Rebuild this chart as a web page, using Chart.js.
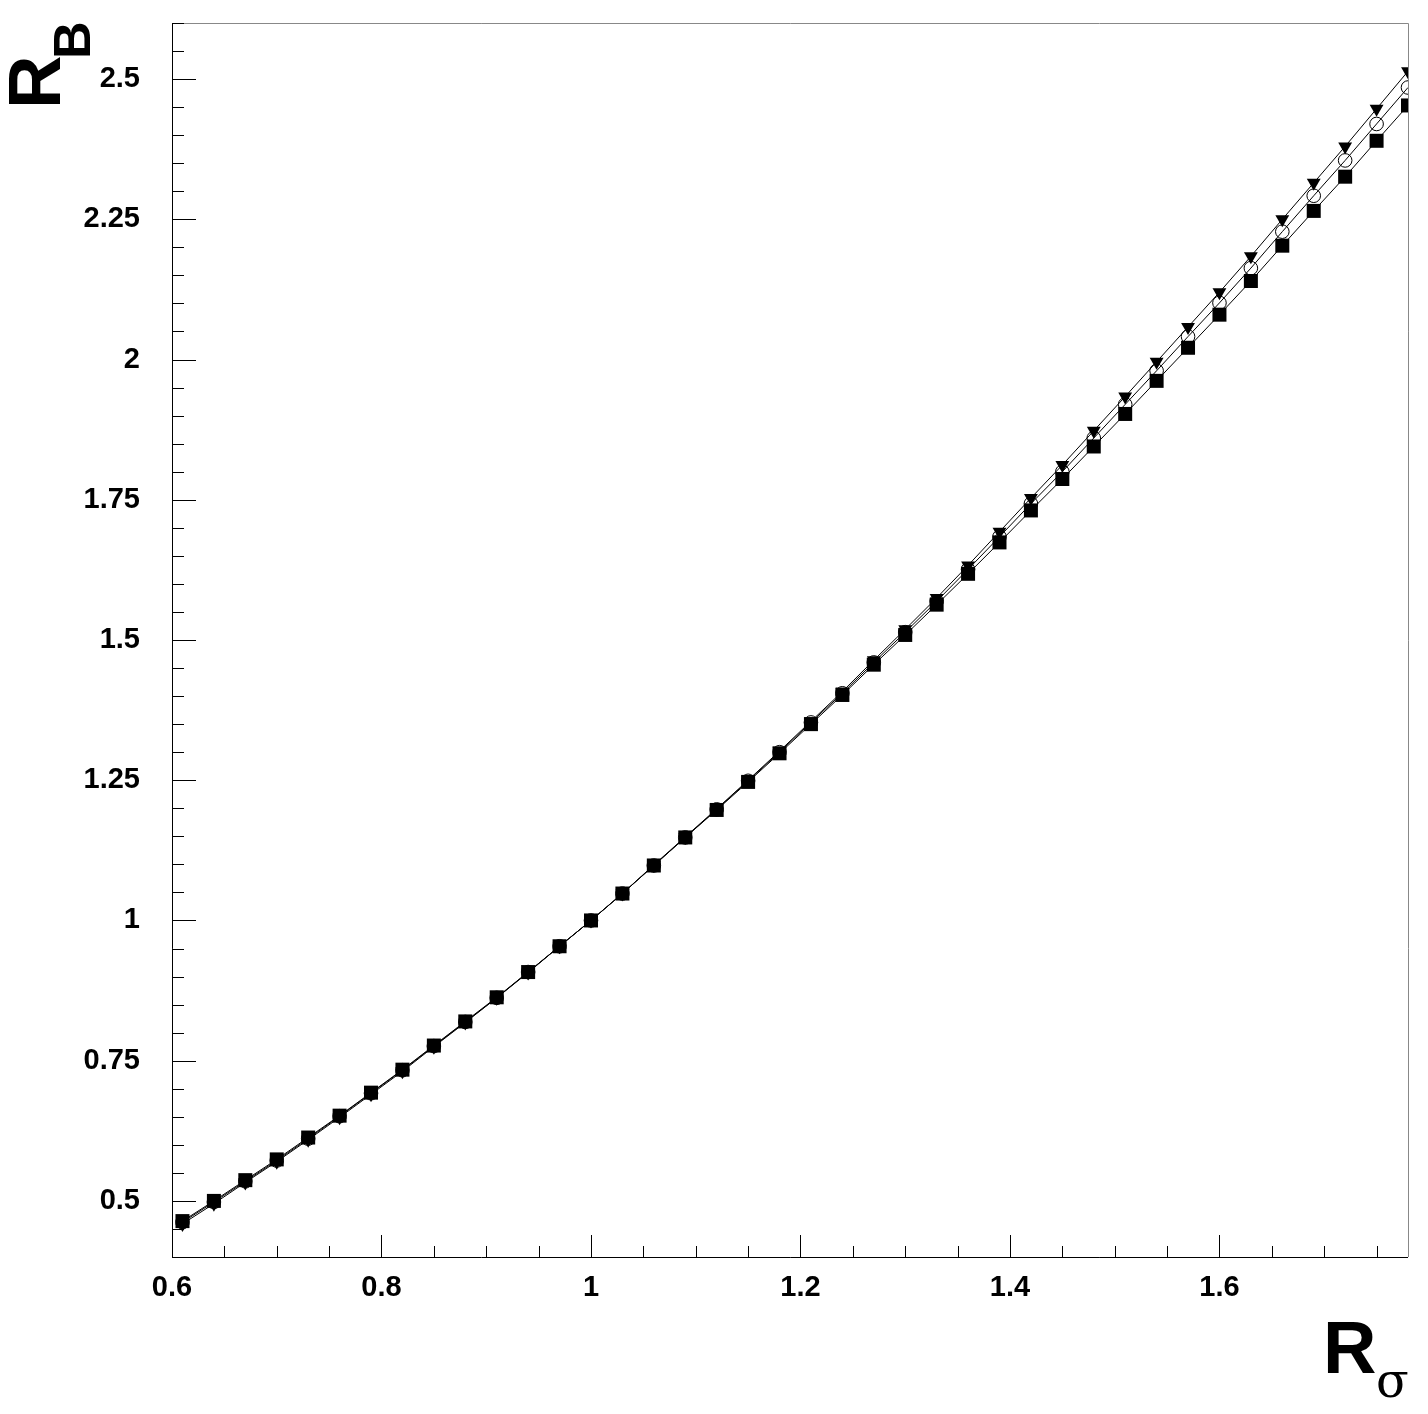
<!DOCTYPE html>
<html>
<head>
<meta charset="utf-8">
<script src="https://cdn.jsdelivr.net/npm/chart.js@4/dist/chart.umd.min.js"></script>
<style>
  html, body { margin: 0; padding: 0; background: #fff; }
  #chart { display: block; }
</style>
</head>
<body>
<canvas id="chart" width="1428" height="1414"></canvas>
<script>
// R_sigma values (x)
const rSigma = [0.61, 0.64, 0.67, 0.70, 0.73, 0.76, 0.79, 0.82, 0.85, 0.88,
                0.91, 0.94, 0.97, 1.00, 1.03, 1.06, 1.09, 1.12, 1.15, 1.18,
                1.21, 1.24, 1.27, 1.30, 1.33, 1.36, 1.39, 1.42, 1.45, 1.48,
                1.51, 1.54, 1.57, 1.60, 1.63, 1.66, 1.69, 1.72, 1.75, 1.78];

// filled down triangles (top curve)
const triangles = [0.459, 0.495, 0.533, 0.570, 0.609, 0.649, 0.690, 0.731, 0.775, 0.818,
                   0.862, 0.907, 0.954, 1.000, 1.048, 1.099, 1.149, 1.199, 1.250, 1.302,
                   1.355, 1.408, 1.464, 1.519, 1.575, 1.633, 1.693, 1.753, 1.812, 1.873,
                   1.934, 1.996, 2.058, 2.120, 2.184, 2.250, 2.315, 2.380, 2.447, 2.514];

// open circles (middle curve)
const circles = [0.462, 0.498, 0.535, 0.572, 0.611, 0.651, 0.692, 0.733, 0.776, 0.819,
                 0.862, 0.908, 0.954, 1.000, 1.048, 1.098, 1.148, 1.198, 1.249, 1.300,
                 1.353, 1.405, 1.460, 1.514, 1.569, 1.626, 1.684, 1.743, 1.800, 1.860,
                 1.920, 1.980, 2.041, 2.101, 2.163, 2.228, 2.292, 2.355, 2.420, 2.485];

// filled squares (bottom curve)
const squares = [0.464, 0.500, 0.537, 0.574, 0.613, 0.652, 0.693, 0.734, 0.777, 0.820,
                 0.863, 0.908, 0.954, 1.000, 1.048, 1.098, 1.148, 1.197, 1.247, 1.298,
                 1.350, 1.402, 1.456, 1.509, 1.563, 1.618, 1.674, 1.731, 1.787, 1.845,
                 1.903, 1.962, 2.021, 2.080, 2.140, 2.203, 2.265, 2.326, 2.390, 2.453];

const xMajorTicks = [0.6, 0.8, 1.0, 1.2, 1.4, 1.6];
const yMajorTicks = [0.5, 0.75, 1.0, 1.25, 1.5, 1.75, 2.0, 2.25, 2.5];

const FONT = '"Liberation Sans", Arial, sans-serif';

function points(ys) {
    return rSigma.map((x, i) => ({ x: x, y: ys[i] }));
}

function fmt(v) {
    return String(+Number(v).toFixed(2));
}

// frame, inward ticks and the axis titles, drawn like the original
const framePlugin = {
    id: 'frame',
    afterDraw(chart) {
        const ctx = chart.ctx;
        const a = chart.chartArea;
        const xs = chart.scales.x;
        const ys = chart.scales.y;
        ctx.save();

        // top / right frame
        ctx.strokeStyle = '#888';
        ctx.lineWidth = 1;
        ctx.beginPath();
        ctx.moveTo(a.left, a.top + 0.5);
        ctx.lineTo(a.right + 0.5, a.top + 0.5);
        ctx.lineTo(a.right + 0.5, a.bottom);
        ctx.stroke();

        // axes
        ctx.strokeStyle = '#000';
        ctx.beginPath();
        ctx.moveTo(a.left + 0.5, a.top);
        ctx.lineTo(a.left + 0.5, a.bottom + 0.5);
        ctx.lineTo(a.right, a.bottom + 0.5);
        ctx.stroke();

        // y ticks: major every 0.25, minor every 0.05
        ctx.beginPath();
        for (let k = 8; k <= 52; k++) {
            const v = k * 0.05;
            const py = Math.round(ys.getPixelForValue(v)) + 0.5;
            const major = k % 5 === 0;
            ctx.moveTo(a.left, py);
            ctx.lineTo(a.left + (major ? 24 : 12), py);
        }
        // x ticks: major every 0.2, minor every 0.05
        for (let k = 12; k <= 35; k++) {
            const v = k * 0.05;
            const px = Math.round(xs.getPixelForValue(v)) + 0.5;
            const major = k % 4 === 0;
            ctx.moveTo(px, a.bottom);
            ctx.lineTo(px, a.bottom - (major ? 22 : 11));
        }
        ctx.stroke();

        // axis titles
        ctx.fillStyle = '#000';
        ctx.textBaseline = 'alphabetic';
        ctx.textAlign = 'left';
        ctx.font = 'bold 74px ' + FONT;
        ctx.fillText('R', 1323, 1373);
        ctx.font = '48px "DejaVu Serif", serif';
        ctx.fillText('σ', 1376, 1397);

        ctx.translate(60, 109);
        ctx.rotate(-Math.PI / 2);
        ctx.font = 'bold 74px ' + FONT;
        ctx.fillText('R', 0, 0);
        ctx.font = 'bold 52px ' + FONT;
        ctx.fillText('B', 50, 30);

        ctx.restore();
    }
};

const lineStyle = {
    borderColor: '#000',
    borderWidth: 1,
    tension: 0,
    fill: false,
    clip: 0
};

new Chart(document.getElementById('chart'), {
    type: 'line',
    data: {
        datasets: [
            Object.assign({
                label: 'squares',
                data: points(squares),
                pointStyle: 'rect',
                pointRadius: 9.9,
                pointBackgroundColor: '#000',
                pointBorderColor: '#000',
                pointBorderWidth: 0,
                order: 0
            }, lineStyle),
            Object.assign({
                label: 'triangles',
                data: points(triangles),
                pointStyle: 'triangle',
                rotation: 180,
                pointRadius: 8,
                pointBackgroundColor: '#000',
                pointBorderColor: '#000',
                pointBorderWidth: 0,
                order: 1
            }, lineStyle),
            Object.assign({
                label: 'circles',
                data: points(circles),
                pointStyle: 'circle',
                pointRadius: 6.8,
                pointBackgroundColor: 'rgba(0,0,0,0)',
                pointBorderColor: '#000',
                pointBorderWidth: 1,
                order: 2
            }, lineStyle)
        ]
    },
    options: {
        responsive: false,
        animation: false,
        events: [],
        layout: { padding: { left: 0, top: 23, right: 20, bottom: 0 } },
        plugins: {
            legend: { display: false },
            tooltip: { enabled: false }
        },
        scales: {
            x: {
                type: 'linear',
                min: 0.6,
                max: 1.78,
                grid: { display: false, drawTicks: false },
                border: { display: false },
                afterFit(scale) {
                    scale.height = 157;
                    scale.paddingLeft = 0;
                    scale.paddingRight = 0;
                },
                afterBuildTicks(scale) {
                    scale.ticks = xMajorTicks.map(v => ({ value: v }));
                },
                ticks: {
                    padding: 14,
                    color: '#000',
                    maxRotation: 0,
                    autoSkip: false,
                    font: { family: FONT, size: 29, weight: 'bold' },
                    callback: v => fmt(v)
                }
            },
            y: {
                type: 'linear',
                min: 0.4,
                max: 2.6,
                grid: { display: false, drawTicks: false },
                border: { display: false },
                afterFit(scale) {
                    scale.width = 172;
                    scale.paddingTop = 0;
                    scale.paddingBottom = 0;
                },
                afterBuildTicks(scale) {
                    scale.ticks = yMajorTicks.map(v => ({ value: v }));
                },
                ticks: {
                    padding: 32,
                    color: '#000',
                    autoSkip: false,
                    font: { family: FONT, size: 29, weight: 'bold' },
                    callback: v => fmt(v)
                }
            }
        }
    },
    plugins: [framePlugin]
});
</script>
</body>
</html>
